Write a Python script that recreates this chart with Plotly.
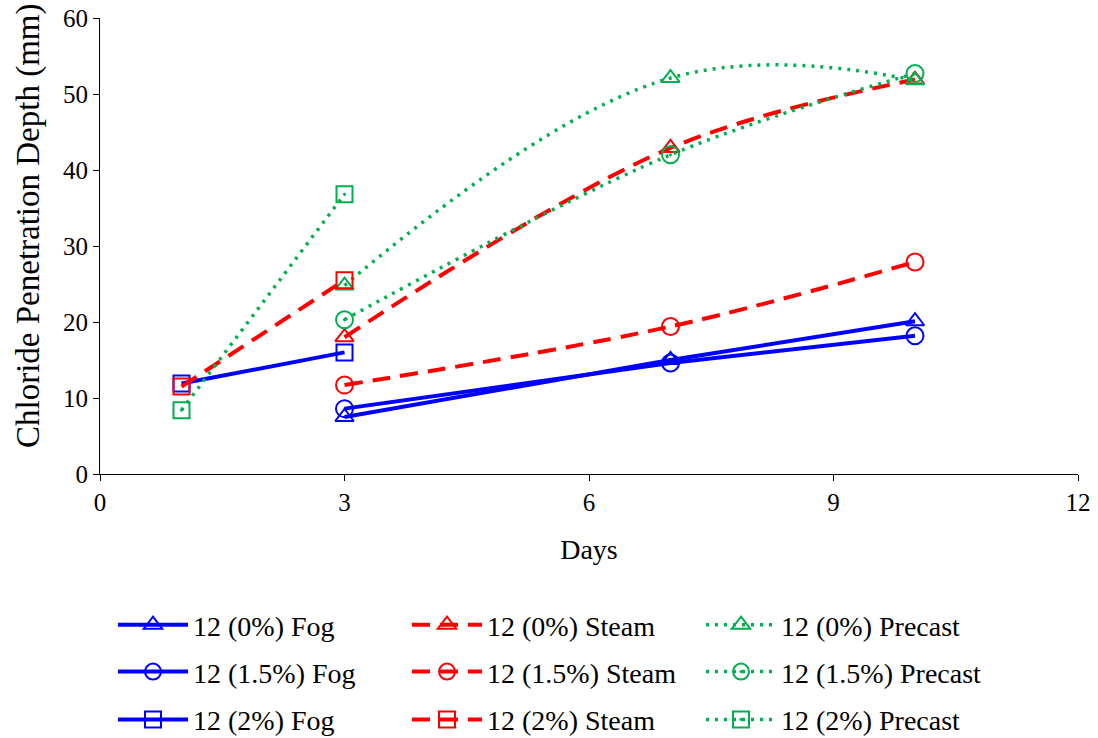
import plotly.graph_objects as go

# ---- data ----
fog0_x = [3, 7, 10]
fog0_y = [7.5, 15.0, 20.1]
fog15_x = [3, 7, 10]
fog15_y = [8.6, 14.6, 18.2]
fog2_x = [1, 3]
fog2_y = [11.9, 16.0]

steam0_x = [3, 7, 10]
steam0_y = [18.0, 42.9, 51.9]
steam15_x = [3, 7, 10]
steam15_y = [11.7, 19.4, 27.9]
steam2_x = [1, 3]
steam2_y = [11.5, 25.5]

pre0_x = [3, 7, 10]
pre0_y = [24.8, 52.1, 51.8]
pre15_x = [3, 7, 10]
pre15_y = [20.3, 42.0, 52.7]
pre2_x = [1, 3]
pre2_y = [8.4, 36.8]

BLUE = "#0000FF"
RED = "#FF0000"
GREEN = "#00B050"
FONT = "Liberation Serif, Times New Roman, serif"

fig = go.Figure()

def add(x, y, name, color, dash, width, symbol, size, shape, legend, smoothing=1.0):
    fig.add_trace(go.Scatter(
        x=x, y=y, name=name, mode="lines+markers",
        line=dict(color=color, width=width, dash=dash, shape=shape, smoothing=smoothing),
        marker=dict(symbol=symbol, size=size, color=color,
                    line=dict(color=color, width=2)),
        legend=legend,
    ))

# row 1
add(fog0_x, fog0_y, "12 (0%) Fog", BLUE, "solid", 4, "triangle-up-open", 16, "linear", "legend")
add(steam0_x, steam0_y, "12 (0%) Steam", RED, "18px,10px", 4, "triangle-up-open", 16, "spline", "legend")
add(pre0_x, pre0_y, "12 (0%) Precast", GREEN, "3px,6px", 3.5, "triangle-up-open", 16, "spline", "legend", 1.15)
# row 2
add(fog15_x, fog15_y, "12 (1.5%) Fog", BLUE, "solid", 4, "circle-open", 17, "linear", "legend2")
add(steam15_x, steam15_y, "12 (1.5%) Steam", RED, "18px,10px", 4, "circle-open", 17, "spline", "legend2")
add(pre15_x, pre15_y, "12 (1.5%) Precast", GREEN, "3px,6px", 3.5, "circle-open-dot", 17, "spline", "legend2")
# row 3
add(fog2_x, fog2_y, "12 (2%) Fog", BLUE, "solid", 4, "square-open", 16, "linear", "legend3")
add(steam2_x, steam2_y, "12 (2%) Steam", RED, "18px,10px", 4, "square-open", 16, "spline", "legend3")
add(pre2_x, pre2_y, "12 (2%) Precast", GREEN, "3px,6px", 3.5, "square-open-dot", 16, "spline", "legend3")

legend_common = dict(
    orientation="h", x=0.0133, xanchor="left", yanchor="middle",
    font=dict(family=FONT, size=28, color="black"),
    itemwidth=70, entrywidth=209, entrywidthmode="pixels",
    bgcolor="rgba(0,0,0,0)", itemclick=False, itemdoubleclick=False,
)

W, H = 1098, 738
ML, MR, MT, MB = 100, 20, 18, 264
PW, PH = W - ML - MR, H - MT - MB

fig.update_layout(
    width=W, height=H,
    margin=dict(l=ML, r=MR, t=MT, b=MB, autoexpand=False),
    plot_bgcolor="white", paper_bgcolor="white",
    font=dict(family=FONT, size=25, color="black"),
    xaxis=dict(
        range=[0, 12], tickvals=[0, 3, 6, 9, 12], showgrid=False, zeroline=False,
        showline=True, linecolor="black", linewidth=1,
        ticks="outside", ticklen=6, tickcolor="black",
        tickfont=dict(family=FONT, size=25),
        title=dict(text="Days", font=dict(family=FONT, size=28), standoff=24),
    ),
    yaxis=dict(
        range=[0, 60], tickvals=[0, 10, 20, 30, 40, 50, 60], showgrid=False, zeroline=False,
        showline=True, linecolor="black", linewidth=1,
        ticks="outside", ticklen=6, tickcolor="black",
        tickfont=dict(family=FONT, size=25),
    ),
    annotations=[dict(
        text="Chloride Penetration Depth (mm)", textangle=-90,
        xref="paper", yref="paper",
        x=(28 - ML) / PW, y=(MT + PH - 226) / PH,
        xanchor="center", yanchor="middle", showarrow=False,
        font=dict(family=FONT, size=33, color="black"),
    )],
    legend=dict(y=-0.331, **legend_common),
    legend2=dict(y=-0.434, **legend_common),
    legend3=dict(y=-0.539, **legend_common),
    showlegend=True,
)

fig.write_html("out.html", post_script="document.body.style.margin='0';",
               config={"displayModeBar": False})
